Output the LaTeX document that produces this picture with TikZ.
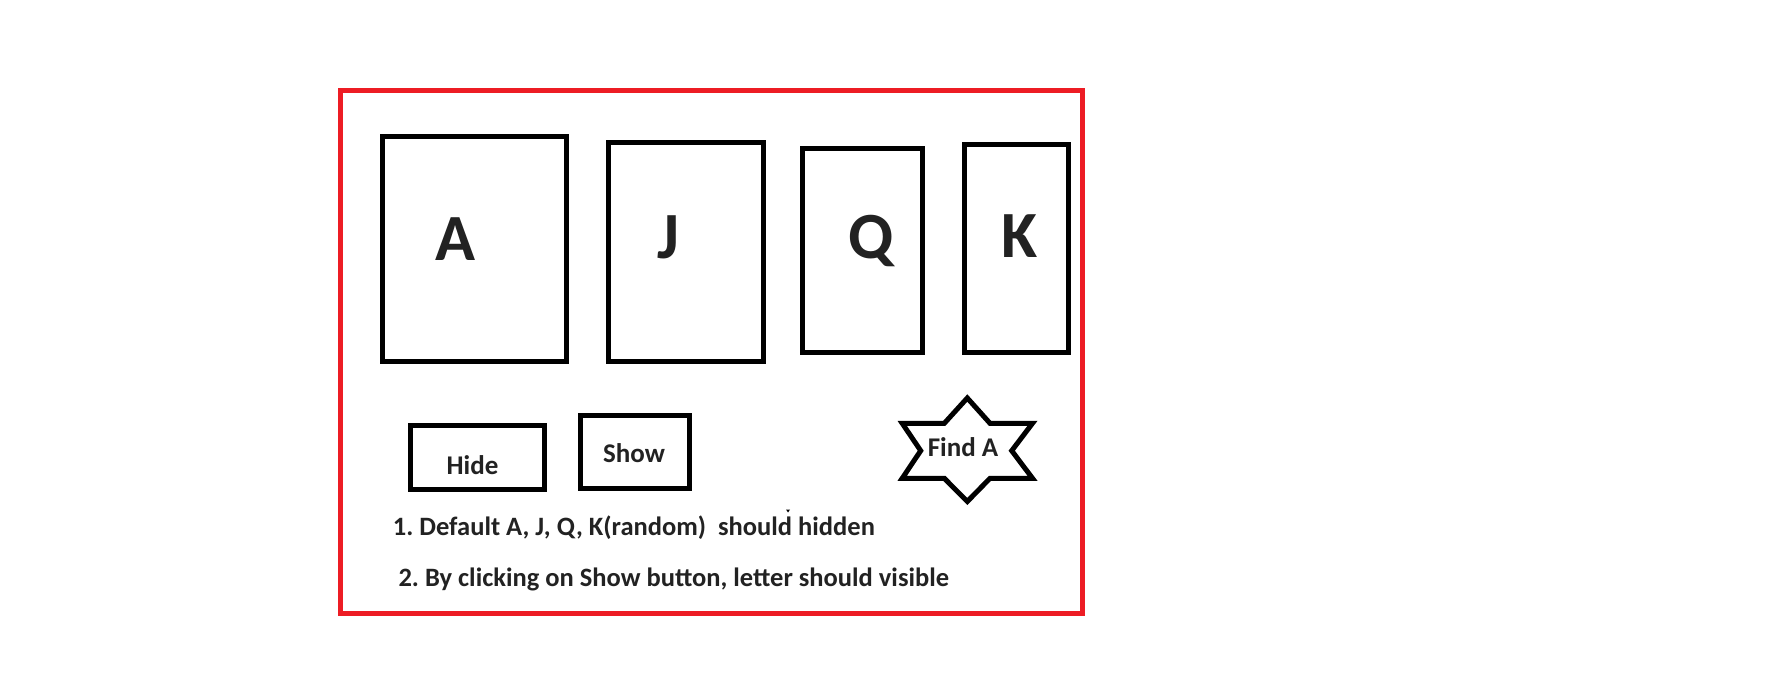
\documentclass[tikz,border=0pt]{standalone}
\usepackage{fontspec}
\setmainfont{Carlito}
\frenchspacing
\definecolor{framered}{HTML}{ED1C24}
\definecolor{txtgray}{HTML}{222222}
\tikzset{
  card/.style={draw=black, line width=5pt, inner sep=0pt, fill=white},
  bigletter/.style={inner sep=0pt, anchor=base, text=txtgray, font=\fontsize{66}{70}\selectfont\bfseries},
  smalltext/.style={inner sep=0pt, text=txtgray, font=\fontsize{27}{30}\selectfont\bfseries},
  notetext/.style={inner sep=0pt, text=txtgray, font=\fontsize{26.5}{30}\selectfont\bfseries},
}
\begin{document}
\begin{tikzpicture}[x=1pt,y=-1pt]
\useasboundingbox (0,0) rectangle (1769,678);
\fill[white] (0,0) rectangle (1769,678);
% red frame
\draw[framered, line width=5pt] (340.5,90.5) rectangle (1082.5,613.3);
% cards
\node[card, minimum width=183.5pt, minimum height=224.7pt] (cardA) at (474.25,248.65) {};
\node[card, minimum width=154.5pt, minimum height=218.5pt] (cardJ) at (685.75,251.75) {};
\node[card, minimum width=119.8pt, minimum height=204.2pt] (cardQ) at (862.4,250.4) {};
\node[card, minimum width=103.8pt, minimum height=208pt] (cardK) at (1016.4,248.5) {};
\node[bigletter] (letA) at (455,260) {A};
\node[bigletter] (letJ) at (668,258) {J};
\node[bigletter] (letQ) at (871,258) {Q};
\node[bigletter] (letK) at (1020,257) {K};
% buttons
\node[card, minimum width=133.8pt, minimum height=63.2pt] (hide) at (477.4,457.4) {};
\node[smalltext, anchor=base] (hidetxt) at (472.5,474.3) {Hide};
\node[card, minimum width=108.5pt, minimum height=72.2pt] (show) at (634.75,451.9) {};
\node[smalltext, anchor=base] (showtxt) at (634,462.3) {Show};
% star
\draw[black, line width=5pt, line join=miter, miter limit=4, fill=white]
  (967.3,398) -- (990,423.3) -- (1032.5,423.3) -- (1011.7,450.7) -- (1032.5,478.3) -- (990,478.3)
  -- (967.3,501.5) -- (944.3,478.3) -- (902.2,478.3) -- (920.7,450.7) -- (902.2,423.3) -- (944.3,423.3) -- cycle;
\node[smalltext, anchor=base] (findA) at (963,456) {Find A};
% notes
\node[notetext, anchor=base west] (note1) at (392.7,535.7) {1. Default A, J, Q, K(random)\ \ should hidden};
\node[notetext, anchor=base west] (note2) at (398.3,586) {2. By clicking on Show button, letter should visible};
\fill[black] (786,509.5) -- (790,509.5) -- (788,512.5) -- cycle;
\end{tikzpicture}
\end{document}
